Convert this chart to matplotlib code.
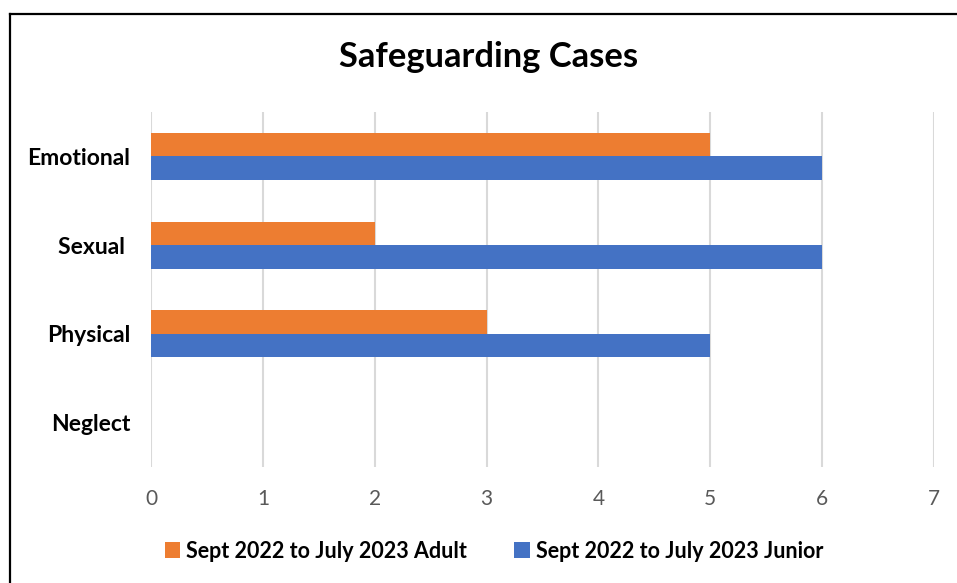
import matplotlib
matplotlib.use("Agg")
import matplotlib.pyplot as plt
from matplotlib.lines import Line2D
from matplotlib.patches import Patch
import numpy as np

categories = ["Neglect", "Physical", "Sexual ", "Emotional"]
adult = [0, 3, 2, 5]
junior = [0, 5, 6, 6]
series_names = ["Sept 2022 to July 2023 Adult", "Sept 2022 to July 2023 Junior"]
xticks = [0, 1, 2, 3, 4, 5, 6, 7]

ORANGE = "#ED7D31"
BLUE = "#4472C4"

plt.rcParams["font.family"] = ["Lato", "DejaVu Sans"]

fig = plt.figure(figsize=(9.57, 5.83), dpi=100)
ax = fig.add_axes([151/957, 1-467/583, (934-151)/957, (467-112)/583])

y = np.arange(len(categories))
h = 0.265
ax.barh(y + h/2, adult, height=h, color=ORANGE, linewidth=0, zorder=3)
ax.barh(y - h/2, junior, height=h, color=BLUE, linewidth=0, zorder=3)

ax.set_xlim(0, 7)
ax.set_ylim(-0.5, 3.5)
ax.set_xticks(xticks)
ax.set_xticklabels([str(t) for t in xticks], color="#595959", fontsize=15)
ax.set_yticks(y)
ax.set_yticklabels(categories, fontsize=16.5, fontweight="bold", color="black")
ax.tick_params(axis="both", length=0)
ax.tick_params(axis="x", pad=16)
ax.tick_params(axis="y", pad=15)
ax.grid(axis="x", color="#d9d9d9", linewidth=1.5, zorder=0)
for s in ax.spines.values():
    s.set_visible(False)

fig.text(489/957, 1-57/583, "Safeguarding Cases", ha="center", va="center",
         fontsize=24.8, fontweight="bold", color="black")

handles = [Patch(facecolor=ORANGE), Patch(facecolor=BLUE)]
fig.legend(handles, series_names, loc="center", bbox_to_anchor=(494/957, 1-551/583),
           ncol=2, frameon=False, prop={"weight": "bold", "size": 15.5},
           handlelength=0.7, handleheight=0.7, handletextpad=0.3, columnspacing=2.2)

# border
fig.add_artist(Line2D([9.5/957, 9.5/957], [0, 1-13.5/583], transform=fig.transFigure, color="black", linewidth=1.6))
fig.add_artist(Line2D([9.5/957, 1], [1-13.5/583, 1-13.5/583], transform=fig.transFigure, color="black", linewidth=1.6))

fig.savefig("out.png", dpi=100)
